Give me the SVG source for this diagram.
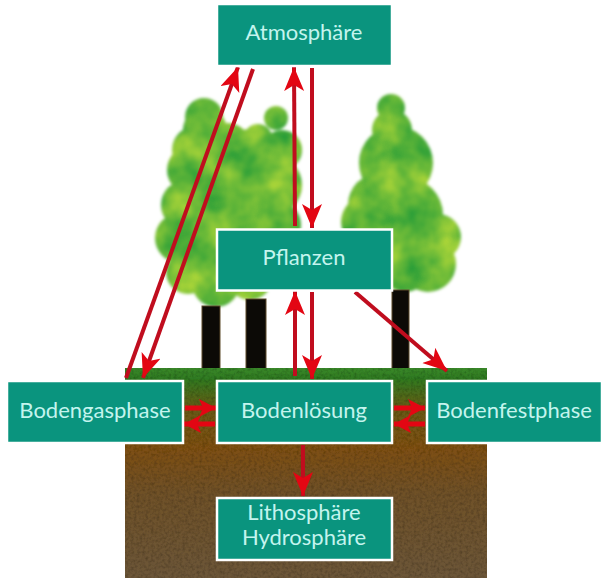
<svg xmlns="http://www.w3.org/2000/svg" width="610" height="586" viewBox="0 0 610 586">
<style>
.box{fill:#0a947e;stroke:#fff;stroke-width:2.5}
.lbl{font-family:"Lato","Open Sans",sans-serif;font-size:22px;fill:#c4f4ee;text-anchor:middle}
.arr{fill:none;stroke:#c00d1e;stroke-width:4;marker-end:url(#head)}
.sm{fill:none;stroke:#e30613;stroke-width:5;marker-end:url(#headS)}
</style>
<defs>
<marker id="head" markerUnits="userSpaceOnUse" markerWidth="26" markerHeight="22" refX="24" refY="10" orient="auto"><path d="M0 0L24 10L0 20L6 10Z" fill="#e30613"/></marker>
<marker id="headS" markerUnits="userSpaceOnUse" markerWidth="20" markerHeight="20" refX="17" refY="9" orient="auto"><path d="M0 0L17 9L0 18L4 9Z" fill="#e30613"/></marker>
<linearGradient id="soil" x1="0" y1="0" x2="0" y2="1">
<stop offset="0" stop-color="#3a8a2a"/><stop offset=".05" stop-color="#2f7a20"/><stop offset=".2" stop-color="#6a5a14"/><stop offset=".38" stop-color="#7e4f12"/><stop offset=".6" stop-color="#6f5128"/><stop offset="1" stop-color="#6c5638"/>
</linearGradient>
<filter id="foliage" x="-5%" y="-5%" width="110%" height="110%" color-interpolation-filters="sRGB">
<feGaussianBlur in="SourceAlpha" stdDeviation="1.8" result="b"/>
<feTurbulence type="fractalNoise" baseFrequency=".03" numOctaves="3" seed="9"/>
<feColorMatrix values="-.7 0 0 0 .75  -.3 0 0 0 .87  0 0 0 0 .22  0 0 0 0 1"/>
<feComposite in2="b" operator="in"/>
</filter>
<filter id="grain" x="0" y="0" width="100%" height="100%">
<feTurbulence type="fractalNoise" baseFrequency=".35" numOctaves="2" seed="4"/>
<feColorMatrix values="0 0 0 0 0  0 0 0 0 0  0 0 0 0 0  0 0 0 .8 -.3"/>
<feComposite in2="SourceGraphic" operator="in"/>
<feBlend in2="SourceGraphic" mode="multiply"/>
</filter>
</defs>
<g id="scene">
<g filter="url(#foliage)" fill="#000">
<circle cx="204" cy="117" r="19"/><circle cx="205" cy="130" r="22"/><circle cx="196" cy="150" r="24"/><circle cx="192" cy="170" r="25"/><circle cx="186" cy="205" r="25"/><circle cx="180" cy="238" r="25"/><circle cx="188" cy="272" r="22"/><circle cx="216" cy="283" r="24"/><circle cx="250" cy="278" r="22"/><circle cx="276" cy="118" r="12"/><circle cx="258" cy="138" r="14"/><circle cx="228" cy="145" r="22"/><circle cx="250" cy="155" r="26"/><circle cx="282" cy="150" r="20"/><circle cx="272" cy="185" r="30"/><circle cx="232" cy="195" r="44"/><circle cx="225" cy="245" r="45"/><circle cx="277" cy="225" r="24"/>
<circle cx="391" cy="108" r="14"/><circle cx="392" cy="130" r="20"/><circle cx="396" cy="163" r="37"/><circle cx="380" cy="205" r="32"/><circle cx="368" cy="222" r="27"/><circle cx="405" cy="215" r="38"/><circle cx="438" cy="237" r="23"/><circle cx="428" cy="264" r="28"/><circle cx="405" cy="268" r="24"/>
</g>
<g fill="#0c0a06" stroke="#5c4a2a" stroke-width="1">
<rect x="202" y="306" width="18" height="64"/>
<rect x="246" y="299" width="20" height="71"/>
<rect x="392" y="290" width="17" height="80"/>
</g>
<rect x="125" y="368" width="362" height="210" fill="url(#soil)" filter="url(#grain)"/>
</g>
<g id="connectors">
<path class="arr" d="M126 378L238 67"/>
<path class="arr" d="M253 69L143 378"/>
<path class="arr" d="M295 226L294 67"/>
<path class="arr" d="M312 68L312 228"/>
<path class="arr" d="M295 376L295 291"/>
<path class="arr" d="M312 292L312 379"/>
<path class="arr" d="M355 292L447 371"/>
<path class="arr" d="M303 445L303 496"/>
<path class="sm" d="M185 408L216 408"/>
<path class="sm" d="M215 424L184 424"/>
<path class="sm" d="M394 408L425 408"/>
<path class="sm" d="M425 424L394 424"/>
</g>
<g id="atmosphaere"><rect class="box" x="217" y="4" width="175" height="62"/><text class="lbl" x="304" y="40">Atmosphäre</text></g>
<g id="pflanzen"><rect class="box" x="217" y="229.500" width="175" height="61"/><text class="lbl" x="304" y="265">Pflanzen</text></g>
<g id="bodengasphase"><rect class="box" x="7" y="381" width="176" height="62"/><text class="lbl" x="95" y="418">Bodengasphase</text></g>
<g id="bodenloesung"><rect class="box" x="217" y="381" width="175" height="62"/><text class="lbl" x="304" y="418">Bodenlösung</text></g>
<g id="bodenfestphase"><rect class="box" x="427" y="381" width="175" height="62"/><text class="lbl" x="514" y="418">Bodenfestphase</text></g>
<g id="lithosphaere"><rect class="box" x="217" y="498" width="175" height="62"/><text class="lbl" x="304" y="520">Lithosphäre</text><text class="lbl" x="304" y="545">Hydrosphäre</text></g>
</svg>
